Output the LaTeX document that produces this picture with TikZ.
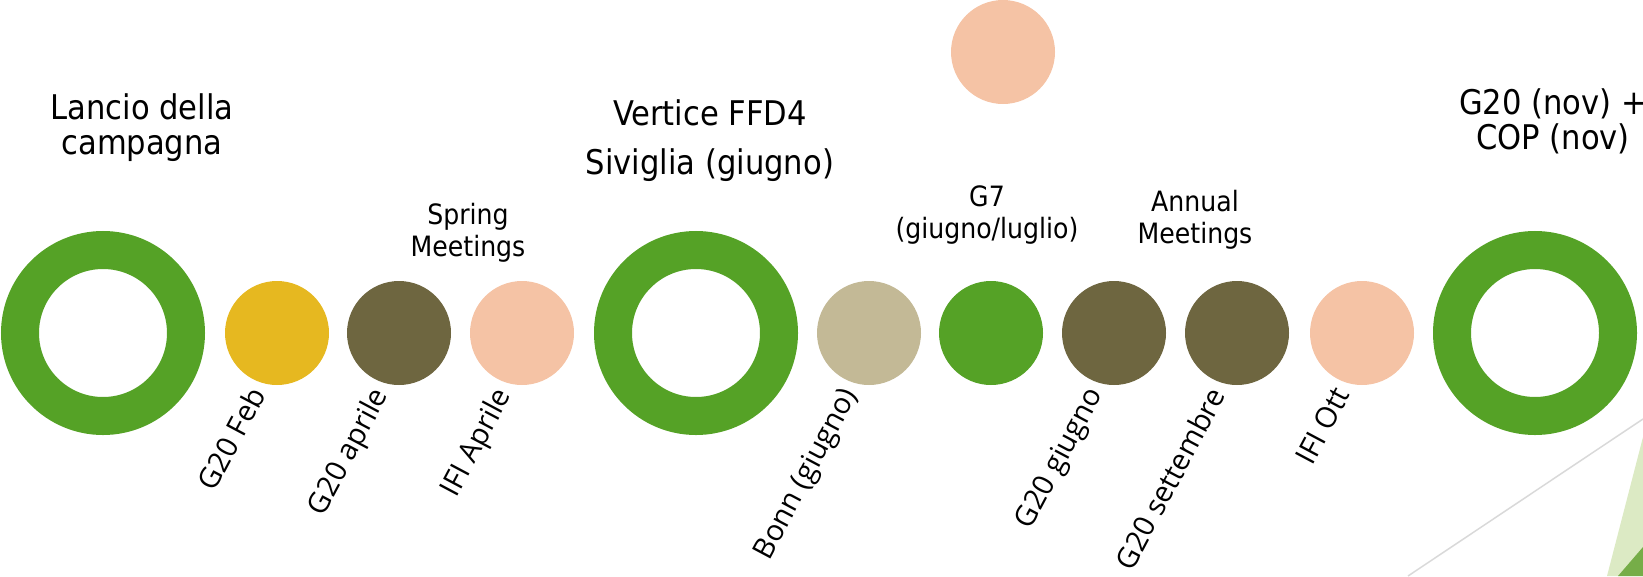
\documentclass[tikz,border=0pt]{standalone}
\usepackage{fontspec}
\setmainfont{DejaVu Sans Condensed}
\newfontfamily\ruotato{Open Sans}
\usepackage{tikz}
\usetikzlibrary{positioning,calc}
\definecolor{verde}{RGB}{85,162,38}
\definecolor{giallo}{RGB}{230,184,32}
\definecolor{oliva}{RGB}{110,102,64}
\definecolor{pesca}{RGB}{245,195,165}
\definecolor{sabbia}{RGB}{195,185,150}
\definecolor{verdechiaro}{RGB}{220,234,196}
\definecolor{verdescuro}{RGB}{118,173,72}
\definecolor{grigio}{RGB}{217,217,217}

\begin{document}
\begin{tikzpicture}[x=1pt,y=-1pt,
  anello/.style={circle,draw=verde,line width=38pt,minimum size=166pt,inner sep=0pt},
  punto/.style={circle,fill=#1,minimum size=104pt,inner sep=0pt},
  titolo/.style={font=\fontsize{34}{35}\selectfont,align=center,inner sep=0pt},
  nota/.style={font=\fontsize{28}{32}\selectfont,align=center,inner sep=0pt},
  data/.style={font=\ruotato\fontsize{29}{31}\selectfont,rotate=62,anchor=north east,inner sep=0pt}]
%Tutte le misure in pixel (1px = 1pt), asse y verso il basso
%Anelli: raggio esterno 102, interno 64 --> raggio del tracciato 83, spessore 38
  \pgfmathsetmacro{\yLinea}{333}
  \pgfmathsetmacro{\dx}{-30}
  \pgfmathsetmacro{\dy}{1}
\useasboundingbox (0,0) rectangle (1643,576);
\clip (0,0) rectangle (1643,576);
%decorazione in basso a destra
\fill[verdechiaro] (1607,576) -- (1643,437) -- (1643,576) -- cycle;
\fill[verdescuro] (1618,576) -- (1643,547) -- (1643,576) -- cycle;
\draw[grigio,line width=1.5pt] (1408,576) -- (1643,419);
%i tre anelli
\node[anello] (lancio) at (103,\yLinea) {};
\node[anello] (vertice) at (696,\yLinea) {};
\node[anello] (cop) at (1535,\yLinea) {};
%i punti con le date
\foreach \x/\col/\nome/\testo in {277/giallo/gfeb/G20 Feb,399/oliva/gapr/G20 aprile,522/pesca/ifiapr/IFI Aprile,
  869/sabbia/bonn/Bonn (giugno),1114/oliva/ggiu/G20 giugno,1237/oliva/gset/G20 settembre,1362/pesca/ifiott/IFI Ott}{
\node[punto=\col] (\nome) at (\x,\yLinea) {};
\node[data] (\nome-t) at ([xshift=\dx pt,yshift=\dy pt]\nome.south) {\testo};
}
\node[punto=verde] (gsette) at (991,\yLinea) {};
\node[punto=pesca] (alto) at (1003,52) {};
%titoli sopra
\node[titolo] (lancio-t) at (142,128) {Lancio della\\campagna};
\node[titolo] (vertice-t) at (710,141) {Vertice FFD4\\[14pt]Siviglia (giugno)};
\node[titolo] (cop-t) at (1553,121) {G20 (nov) +\\COP (nov)};
\node[nota] (spring-t) at (468,233) {Spring\\Meetings};
\node[nota] (gsette-t) at (987,215) {G7\\(giugno/luglio)};
\node[nota] (annual-t) at (1195,220) {Annual\\Meetings};
\end{tikzpicture}
\end{document}
